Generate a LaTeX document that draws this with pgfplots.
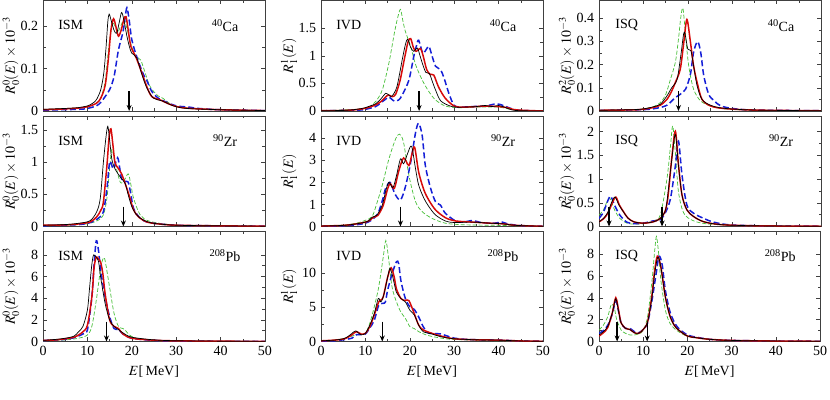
\documentclass[border=0pt]{standalone}
\usepackage{mathptmx}
\usepackage{fontspec}
\setmainfont{Liberation Serif}
\usepackage{pgfplots}
\pgfplotsset{compat=1.18}
\usetikzlibrary{arrows.meta}

\definecolor{cred}{RGB}{215,10,10}
\definecolor{cblue}{RGB}{20,30,215}
\definecolor{cgreen}{RGB}{70,190,55}

\pgfplotsset{
  panel/.style={
    scale only axis, width=222pt, height=110.5pt, anchor=south west,
    xmin=0, xmax=50, ymin=0,
    xtick={0,10,20,30,40,50}, minor x tick num=1, minor y tick num=1,
    tick align=inside, scaled y ticks=false,
    major tick length=4pt, minor tick length=2.5pt,
    axis line style={black!75, line width=0.5pt},
    every tick/.style={black!75},
    /pgf/number format/assume math mode=true,
    every axis y label/.style={at={(rel axis cs:0,0.5)}, xshift=-32pt,
      rotate=90, anchor=center},
  },
  notx/.style={xticklabels={}},
  sK/.style={black, line width=0.7pt, smooth, no marks},
  sR/.style={cred, line width=1.5pt, smooth, no marks},
  sB/.style={cblue, line width=1.5pt, smooth, no marks, dash pattern=on 6pt off 3pt},
  sG/.style={cgreen, line width=0.7pt, smooth, no marks, dash pattern=on 4pt off 2pt},
}
\tikzset{arr/.style={-{Stealth[length=6pt,width=5pt]}, line width=1.3pt, black}}
\newcommand{\tags}[2]{%
  \node at (rel axis cs:0.125,0.775) {#1};
  \node at (rel axis cs:0.82,0.775) {#2};}

\begin{document}
\fontsize{14}{17}\selectfont
\begin{tikzpicture}
\useasboundingbox (0,0) rectangle (830pt,399pt);

% ---------------- row 1: 40Ca ----------------
\begin{axis}[panel, notx, at={(43pt,288pt)}, ymax=0.26, ytick={0,0.1,0.2},
  ylabel={$R^0_0(E)\times 10^{-3}$}]
\addplot[sG] coordinates {(0,0.003)(8,0.007)(10,0.01)(12,0.018)(13,0.03)(14,0.07)(14.8,0.15)(15.6,0.205)(16.2,0.2)(16.8,0.185)(17.5,0.2)(18.3,0.215)(19,0.19)(20,0.15)(21,0.128)(22,0.12)(23,0.09)(24,0.06)(25,0.045)(26,0.035)(27,0.03)(29,0.015)(32,0.008)(40,0.003)(50,0.001)};
\addplot[sB] coordinates {(0,0.002)(8,0.004)(10,0.006)(12,0.012)(13,0.02)(14,0.034)(15,0.05)(16,0.081)(17,0.144)(18,0.185)(18.5,0.22)(18.9,0.243)(19.4,0.215)(20,0.168)(21.1,0.128)(22.5,0.089)(23.5,0.069)(24.5,0.046)(26,0.03)(28,0.02)(30,0.012)(33,0.009)(35,0.006)(40,0.003)(50,0.001)};
\addplot[sR] coordinates {(0,0.003)(5,0.005)(8,0.007)(10,0.01)(12,0.018)(13,0.03)(14,0.06)(14.7,0.12)(15.3,0.19)(15.9,0.217)(16.5,0.195)(17,0.176)(17.6,0.19)(18.2,0.215)(18.7,0.222)(19.2,0.19)(19.8,0.152)(21,0.125)(21.9,0.1)(23.4,0.057)(24.5,0.034)(26.4,0.026)(29,0.014)(32,0.007)(40,0.003)(50,0.001)};
\addplot[sK] coordinates {(0,0.004)(5,0.006)(8,0.008)(10,0.012)(11,0.017)(12,0.026)(13,0.05)(13.7,0.09)(14.2,0.15)(14.6,0.21)(14.9,0.228)(15.3,0.215)(16,0.19)(16.6,0.183)(17.2,0.21)(17.7,0.232)(18.2,0.215)(18.9,0.176)(19.5,0.15)(20,0.136)(21.1,0.125)(22.3,0.085)(23.4,0.054)(24.9,0.03)(26.8,0.024)(29.4,0.012)(32.4,0.006)(40,0.003)(50,0.001)};
\draw[arr] (axis cs:19.4,0.047) -- (axis cs:19.4,0);
\tags{ISM}{\textsuperscript{40}Ca}
\end{axis}

\begin{axis}[panel, notx, at={(321pt,288pt)}, ymax=2, ytick={0,0.5,1,1.5},
  ylabel={$R^1_1(E)$}]
\addplot[sG] coordinates {(0,0.005)(8,0.03)(10,0.05)(10.8,0.07)(12.3,0.17)(13.8,0.38)(15.3,0.87)(16.5,1.4)(17.3,1.7)(17.9,1.84)(18.4,1.65)(19,1.44)(20.2,1.17)(21.3,0.84)(22.8,0.56)(24.3,0.35)(25.8,0.2)(28,0.09)(31,0.06)(35,0.07)(40,0.07)(42,0.04)(45,0.01)(50,0.0)};
\addplot[sB] coordinates {(0,0.003)(8,0.015)(10,0.03)(12.3,0.08)(13.5,0.15)(14.5,0.21)(15.3,0.25)(16.5,0.18)(17.5,0.2)(18.3,0.29)(19.8,0.56)(20.9,0.99)(21.5,1.18)(22,1.28)(22.9,1.05)(23.6,1.1)(24.3,1.17)(25,1.0)(25.8,0.81)(26.9,0.75)(27.7,0.6)(28.8,0.32)(29.9,0.11)(31,0.07)(34,0.08)(37,0.09)(39.5,0.13)(41,0.1)(43,0.04)(45,0.01)(50,0.0)};
\addplot[sR] coordinates {(0,0.005)(5,0.01)(8,0.025)(10,0.05)(12,0.1)(13.5,0.17)(14.5,0.25)(15.2,0.29)(16,0.26)(16.8,0.3)(17.8,0.55)(18.8,0.95)(19.6,1.25)(20.2,1.31)(20.8,1.15)(21.4,1.08)(22.4,1.13)(23,1.0)(23.8,0.75)(24.6,0.66)(25.4,0.65)(26.5,0.43)(28,0.23)(30,0.09)(32,0.07)(35,0.08)(37,0.09)(40,0.08)(42,0.06)(44,0.02)(50,0.0)};
\addplot[sK] coordinates {(0,0.005)(5,0.01)(8,0.03)(10,0.06)(11,0.09)(12.3,0.13)(13.5,0.22)(14.6,0.32)(15.4,0.28)(16,0.27)(17.1,0.44)(18.3,0.93)(19,1.2)(19.5,1.3)(20.2,1.15)(20.9,1.08)(21.7,1.14)(22.3,1.0)(22.8,0.87)(23.6,0.7)(24.4,0.68)(25,0.55)(25.8,0.38)(27,0.18)(29.5,0.08)(32,0.07)(35,0.08)(37,0.1)(38.5,0.08)(40,0.1)(41,0.08)(43,0.02)(45,0.005)(50,0.0)};
\draw[arr] (axis cs:22.1,0.36) -- (axis cs:22.1,0);
\tags{IVD}{\textsuperscript{40}Ca}
\end{axis}

\begin{axis}[panel, notx, at={(599pt,288pt)}, ymax=0.476, ytick={0,0.1,0.2,0.3,0.4},
  ylabel={$R^2_0(E)\times 10^{-3}$}]
\addplot[sG] coordinates {(0,0.003)(8,0.006)(10,0.009)(12.3,0.019)(13.8,0.036)(15,0.07)(16.1,0.137)(17.2,0.21)(17.9,0.31)(18.4,0.4)(18.9,0.443)(19.5,0.325)(20.2,0.195)(21.3,0.094)(22.9,0.043)(25.1,0.022)(28,0.01)(35,0.003)(50,0.001)};
\addplot[sB] coordinates {(0,0.002)(10,0.006)(13,0.012)(15.3,0.025)(17.2,0.058)(18.3,0.072)(19.5,0.094)(20.6,0.159)(21.3,0.253)(22.2,0.299)(22.9,0.253)(23.6,0.152)(24.7,0.072)(25.9,0.045)(27.4,0.022)(30.4,0.01)(35,0.004)(50,0.001)};
\addplot[sR] coordinates {(0,0.003)(8,0.005)(10,0.008)(12,0.014)(13.8,0.025)(15.3,0.05)(16.4,0.087)(17.2,0.123)(18.3,0.18)(19.1,0.296)(19.8,0.394)(20.6,0.296)(21.3,0.195)(22.1,0.123)(23.2,0.05)(25.1,0.022)(28,0.011)(35,0.004)(50,0.001)};
\addplot[sK] coordinates {(0,0.003)(8,0.006)(10,0.009)(12,0.017)(13.8,0.029)(15.3,0.065)(16.4,0.101)(17.6,0.137)(18.5,0.25)(19.2,0.34)(20,0.267)(20.7,0.26)(21.3,0.195)(22.1,0.108)(23.2,0.05)(25.1,0.025)(28,0.012)(35,0.004)(50,0.001)};
\draw[arr] (axis cs:17.9,0.086) -- (axis cs:17.9,0);
\tags{ISQ}{\textsuperscript{40}Ca}
\end{axis}

% ---------------- row 2: 90Zr ----------------
\begin{axis}[panel, notx, at={(43pt,172.5pt)}, ymax=1.72, ytick={0,0.5,1,1.5},
  ylabel={$R^0_0(E)\times 10^{-3}$}]
\addplot[sG] coordinates {(0,0.01)(8,0.03)(10.6,0.05)(12.5,0.1)(13.6,0.18)(14.4,0.44)(15,0.9)(15.5,1.2)(16.2,1.0)(17.4,0.69)(18.3,0.72)(19.2,0.82)(19.8,0.65)(20.4,0.44)(21.9,0.18)(24.1,0.08)(30,0.02)(40,0.01)(50,0.005)};
\addplot[sB] coordinates {(0,0.01)(8,0.03)(10.6,0.06)(12.5,0.13)(13.6,0.23)(14.4,0.59)(15,1.0)(15.5,0.95)(15.9,0.9)(16.8,1.07)(17.3,0.9)(17.7,0.74)(18.5,0.7)(19.2,0.69)(19.8,0.5)(20.4,0.28)(21.9,0.13)(24,0.06)(30,0.02)(40,0.01)(50,0.005)};
\addplot[sR] coordinates {(0,0.02)(5,0.025)(8,0.04)(10.6,0.07)(12.1,0.15)(13,0.25)(13.6,0.38)(14.4,0.95)(14.9,1.4)(15.3,1.52)(15.7,1.3)(16.2,1.0)(16.8,0.92)(17.7,0.82)(18.9,0.59)(19.6,0.44)(20.4,0.26)(21.5,0.15)(23.4,0.07)(26,0.04)(30,0.02)(40,0.01)(50,0.005)};
\addplot[sK] coordinates {(0,0.02)(5,0.03)(8,0.05)(10.6,0.09)(12.1,0.23)(12.9,0.44)(13.6,1.0)(14.2,1.4)(14.6,1.56)(15,1.35)(15.5,1.05)(16.2,0.9)(17.4,0.77)(18.5,0.67)(19.2,0.49)(20,0.31)(21.1,0.18)(22.6,0.1)(24.9,0.05)(30,0.02)(40,0.01)(50,0.005)};
\draw[arr] (axis cs:18.1,0.31) -- (axis cs:18.1,0);
\tags{ISM}{\textsuperscript{90}Zr}
\end{axis}

\begin{axis}[panel, notx, at={(321pt,172.5pt)}, ymax=5, ytick={0,1,2,3,4},
  ylabel={$R^1_1(E)$}]
\addplot[sG] coordinates {(0,0.02)(5,0.06)(8,0.15)(10,0.28)(11.5,0.45)(12.5,1.0)(13.8,1.87)(15.3,3.06)(16.8,3.96)(17.7,4.18)(18.6,3.8)(19.8,2.31)(21.3,1.12)(22.8,0.67)(25,0.37)(28,0.15)(32,0.08)(40,0.05)(50,0.01)};
\addplot[sB] coordinates {(0,0.01)(5,0.03)(8,0.08)(10,0.15)(11.5,0.3)(12.3,0.45)(13,0.67)(14,1.3)(14.5,1.7)(15.5,2.0)(16.2,1.7)(16.8,1.42)(17.9,1.2)(19,1.79)(20.2,2.91)(21.3,4.25)(22,4.67)(22.8,4.1)(23.5,2.76)(24.7,1.72)(25.8,1.12)(26.9,0.97)(28,0.6)(30.3,0.25)(32,0.2)(34.2,0.27)(36,0.18)(39,0.15)(40.8,0.2)(42,0.12)(45,0.04)(50,0.01)};
\addplot[sR] coordinates {(0,0.02)(5,0.05)(8,0.12)(10,0.2)(11,0.28)(11.8,0.42)(12.8,0.5)(14,0.95)(15,1.7)(15.6,1.94)(16.5,1.72)(17.5,2.5)(18.6,3.1)(19.8,2.76)(20.5,3.3)(21.1,3.58)(22,2.46)(23.2,1.64)(24.3,1.19)(25.8,0.75)(28,0.4)(30.3,0.25)(34,0.2)(38,0.15)(41,0.12)(44,0.05)(50,0.01)};
\addplot[sK] coordinates {(0,0.02)(5,0.05)(8,0.12)(10,0.2)(10.7,0.25)(11.5,0.42)(12.6,0.52)(13.8,0.97)(14.7,1.7)(15.3,2.0)(16.2,1.76)(17,2.3)(17.9,3.06)(18.6,2.84)(19.5,3.3)(20.4,3.63)(21.3,2.6)(22,1.87)(23.2,1.27)(24.3,0.9)(25.8,0.52)(28,0.25)(30,0.18)(34,0.2)(38,0.15)(41,0.12)(44,0.05)(50,0.01)};
\draw[arr] (axis cs:17.9,0.9) -- (axis cs:17.9,0);
\tags{IVD}{\textsuperscript{90}Zr}
\end{axis}

\begin{axis}[panel, notx, at={(599pt,172.5pt)}, ymax=2.33, ytick={0,0.5,1,1.5,2},
  ylabel={$R^2_0(E)\times 10^{-3}$}]
\addplot[sG] coordinates {(0,0.24)(1,0.35)(1.8,0.52)(2.5,0.59)(3.5,0.35)(4.7,0.17)(6.3,0.07)(8,0.05)(10,0.06)(12.3,0.12)(13.8,0.24)(15.3,1.0)(16.1,1.7)(16.6,2.12)(17.2,1.56)(17.9,0.73)(19.1,0.28)(21.3,0.12)(25,0.05)(35,0.01)(50,0.005)};
\addplot[sB] coordinates {(0,0.17)(1,0.3)(1.8,0.5)(2.6,0.64)(3.5,0.45)(4.7,0.24)(6.3,0.09)(8,0.06)(10,0.07)(12.3,0.12)(13.8,0.14)(15,0.3)(16.1,0.59)(17.2,1.28)(17.9,1.8)(18.7,1.08)(19.8,0.45)(21.3,0.28)(23.6,0.17)(25.9,0.09)(30,0.03)(40,0.01)(50,0.005)};
\addplot[sR] coordinates {(0,0.1)(1,0.16)(2,0.28)(3,0.5)(3.8,0.62)(4.6,0.45)(5.6,0.3)(6.5,0.18)(7.8,0.1)(10,0.07)(12.3,0.1)(13.8,0.17)(14.8,0.3)(15.5,0.6)(16.4,1.45)(17.2,2.01)(17.9,1.3)(18.7,0.66)(19.8,0.35)(21.3,0.21)(23.6,0.1)(27.4,0.04)(35,0.015)(50,0.005)};
\addplot[sK] coordinates {(0,0.1)(1,0.17)(2,0.3)(2.8,0.5)(3.6,0.62)(4.5,0.45)(5.5,0.31)(6.5,0.18)(7.8,0.1)(10,0.07)(12.3,0.1)(13.8,0.17)(14.8,0.3)(15.3,0.52)(16.4,1.42)(17.2,1.94)(17.9,1.28)(18.7,0.66)(19.8,0.35)(21.3,0.21)(23.6,0.1)(27.4,0.04)(35,0.015)(50,0.005)};
\draw[arr] (axis cs:2.26,0.42) -- (axis cs:2.26,0);
\draw[arr] (axis cs:14.2,0.42) -- (axis cs:14.2,0);
\tags{ISQ}{\textsuperscript{90}Zr}
\end{axis}

% ---------------- row 3: 208Pb ----------------
\begin{axis}[panel, at={(43pt,57.5pt)}, ymax=10.2, ytick={0,2,4,6,8},
  ylabel={$R^0_0(E)\times 10^{-3}$}, xlabel={$E$[\,MeV]}]
\addplot[sG] coordinates {(0,0.05)(5,0.15)(8,0.3)(10,0.6)(11,1.4)(12,3.8)(13,6.8)(13.6,7.7)(14,7.45)(15,5.0)(16,2.6)(17,1.4)(18,1.2)(18.5,1.05)(19.5,0.6)(21,0.3)(25,0.1)(30,0.05)(40,0.02)(50,0.01)};
\addplot[sB] coordinates {(0,0.08)(5,0.2)(7,0.35)(8,0.5)(9,0.7)(10,1.06)(11,4.1)(11.5,7.1)(12,9.3)(12.5,8.4)(13,6.5)(13.5,5.3)(14,4.1)(15,2.3)(16,1.2)(17,1.1)(18,0.7)(20,0.3)(25,0.1)(30,0.05)(40,0.02)(50,0.01)};
\addplot[sR] coordinates {(0,0.1)(3,0.15)(5,0.25)(7,0.4)(8,0.6)(9,0.9)(10,1.5)(11,4.1)(11.5,6.8)(12,7.8)(12.5,7.6)(13,7.3)(13.5,6.2)(14,4.4)(15,2.0)(16,1.4)(17,1.2)(18,0.7)(20,0.3)(25,0.12)(30,0.06)(40,0.03)(50,0.01)};
\addplot[sK] coordinates {(0,0.1)(3,0.2)(5,0.3)(7,0.5)(8,0.9)(9,1.4)(10,2.9)(10.5,5.0)(11,7.1)(11.4,8.0)(12,7.75)(12.5,7.4)(13,5.9)(14,3.5)(15,2.0)(16,1.4)(17,1.1)(18,0.8)(20,0.4)(25,0.15)(30,0.07)(40,0.03)(50,0.01)};
\draw[arr] (axis cs:14.3,1.84) -- (axis cs:14.3,0);
\tags{ISM}{\textsuperscript{208}Pb}
\end{axis}

\begin{axis}[panel, at={(321pt,57.5pt)}, ymax=16.2, ytick={0,5,10},
  ylabel={$R^1_1(E)$}, xlabel={$E$[\,MeV]}]
\addplot[sG] coordinates {(0,0.1)(3,0.2)(5,0.4)(7,0.8)(8,1.0)(9,1.0)(10,1.2)(11,2.7)(12,5.1)(13,8.0)(14,12.3)(14.6,14.8)(15.2,12.3)(16,8.0)(17,5.8)(18,4.3)(19,3.4)(20,2.2)(21,1.9)(22,1.45)(24,0.9)(27,0.5)(30,0.3)(40,0.1)(50,0.03)};
\addplot[sB] coordinates {(0,0.05)(3,0.1)(5,0.25)(7,0.5)(8,1.0)(9,1.0)(10,1.1)(11,2.0)(12,3.1)(13,5.3)(14,5.6)(14.5,5.8)(15,7.5)(16,9.9)(17,11.7)(17.5,11.4)(18,8.9)(19,6.3)(20,5.1)(21,4.7)(22,3.6)(23,2.2)(24,1.3)(25,1.2)(27,1.1)(28,0.9)(30,0.5)(33,0.3)(40,0.2)(45,0.08)(50,0.03)};
\addplot[sR] coordinates {(0,0.1)(3,0.2)(5,0.35)(6,0.6)(7,1.0)(8,1.45)(9,1.1)(10,1.2)(11,2.2)(12,3.9)(13,5.8)(13.5,6.1)(14,6.5)(15,9.4)(15.8,10.8)(16.5,9.4)(17,7.7)(18,6.3)(19,6.0)(19.8,6.0)(21,4.1)(22,2.4)(23,1.7)(25,1.2)(27,0.8)(30,0.4)(35,0.25)(40,0.2)(45,0.08)(50,0.03)};
\addplot[sK] coordinates {(0,0.1)(3,0.2)(5,0.4)(6,0.7)(7,1.2)(7.8,1.55)(9,1.0)(10,1.2)(11,2.4)(12,4.1)(12.9,6.3)(13.5,5.8)(14.2,7.0)(15,9.4)(15.5,10.7)(16,9.9)(16.5,8.5)(17,7.2)(18,6.3)(19,5.8)(20,4.6)(21,3.9)(22,2.4)(23,1.45)(25,1.1)(27,0.7)(30,0.4)(35,0.25)(40,0.2)(45,0.08)(50,0.03)};
\draw[arr] (axis cs:13.8,2.9) -- (axis cs:13.8,0);
\tags{IVD}{\textsuperscript{208}Pb}
\end{axis}

\begin{axis}[panel, at={(599pt,57.5pt)}, width=221pt, ymax=10.1, ytick={0,2,4,6,8},
  ylabel={$R^2_0(E)\times 10^{-3}$}, xlabel={$E$[\,MeV]}]
\addplot[sG] coordinates {(0,1.05)(1,1.5)(2,2.3)(2.8,3.4)(3.5,3.0)(4,2.0)(5,1.05)(6,0.75)(7,0.6)(8,0.6)(9,0.7)(10,1.0)(11,2.3)(12,5.6)(12.6,8.3)(13,9.6)(13.5,8.0)(14,5.6)(15,2.9)(16,1.7)(17,1.2)(18,0.9)(20,0.5)(25,0.2)(30,0.1)(40,0.04)(50,0.02)};
\addplot[sB] coordinates {(0,0.75)(1,1.0)(2,1.5)(3,2.5)(3.8,3.7)(4.5,2.6)(5,1.7)(6,1.2)(7,1.2)(8,0.9)(9,0.8)(10,1.1)(11,1.7)(12,3.8)(13,6.4)(13.6,7.8)(14.3,7.0)(15,4.7)(16,2.8)(17,1.8)(18,1.2)(20,0.6)(22,0.4)(25,0.2)(30,0.1)(40,0.04)(50,0.02)};
\addplot[sR] coordinates {(0,0.5)(1,0.8)(2,1.3)(3,2.6)(3.8,4.0)(4.5,2.7)(5,1.7)(6,1.2)(7,1.1)(8,0.8)(9,0.75)(10,1.1)(11,1.8)(12,4.3)(12.5,6.2)(13.2,7.8)(14,6.8)(15,4.1)(16,2.4)(17,1.5)(18,1.05)(20,0.5)(22,0.35)(25,0.2)(30,0.1)(40,0.04)(50,0.02)};
\addplot[sK] coordinates {(0,0.6)(1,0.9)(2,1.4)(3,2.6)(3.8,3.9)(4.5,2.6)(5,1.7)(6,1.2)(7,1.1)(8,0.8)(9,0.75)(10,1.1)(11,1.8)(12,4.1)(12.5,5.9)(13.3,7.7)(14,6.8)(15,4.1)(16,2.4)(17,1.5)(18,1.05)(20,0.5)(22,0.35)(25,0.2)(30,0.1)(40,0.04)(50,0.02)};
\draw[arr] (axis cs:4.1,1.82) -- (axis cs:4.1,0);
\draw[arr] (axis cs:10.9,1.82) -- (axis cs:10.9,0);
\tags{ISQ}{\textsuperscript{208}Pb}
\end{axis}
\end{tikzpicture}
\end{document}
